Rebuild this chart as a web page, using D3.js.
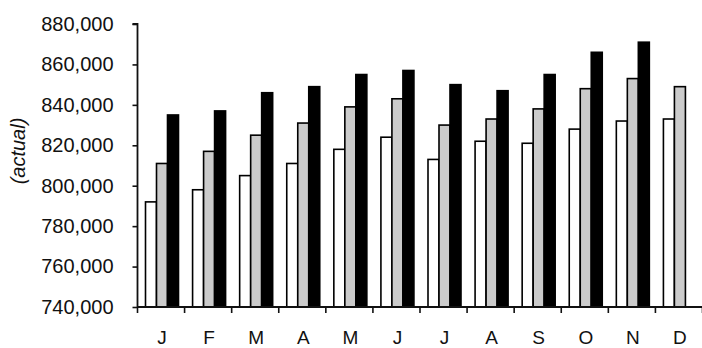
<!DOCTYPE html>
<html>
<head>
<meta charset="utf-8">
<script src="https://cdn.jsdelivr.net/npm/d3@7/dist/d3.min.js"></script>
<style>
html,body{margin:0;padding:0;background:#fff;}
svg{display:block;}
text{font-family:"Liberation Sans",Arial,sans-serif;fill:#111;}
</style>
</head>
<body>
<svg id="chart" width="702" height="348"></svg>
<script>
const months = ["J","F","M","A","M","J","J","A","S","O","N","D"];
const seriesNames = ["white","gray","black"];
const whiteValues = [792000,798000,805000,811000,818000,824000,813000,822000,821000,828000,832000,833000];
const grayValues  = [811000,817000,825000,831000,839000,843000,830000,833000,838000,848000,853000,849000];
const blackValues = [835000,837000,846000,849000,855000,857000,850000,847000,855000,866000,871000,null];
const yTicks = [740000,760000,780000,800000,820000,840000,860000,880000];
const seriesFill = ["#ffffff","#cbcbcb","#000000"];

const svg = d3.select("#chart");
const x0 = 137.5, x1 = 702.5, yTop = 24, yBot = 307;

const x = d3.scaleBand().domain(d3.range(months.length)).range([x0, x1]).padding(0);
const sub = d3.scaleBand().domain(d3.range(seriesNames.length)).range([8, 41]).padding(0);
const y = d3.scaleLinear().domain([740000, 880000]).range([yBot, yTop]);

const allSeries = [whiteValues, grayValues, blackValues];

// bars
allSeries.forEach((vals, si) => {
  svg.append("g").selectAll("rect")
    .data(vals.map((v, i) => ({v, i})).filter(d => d.v !== null))
    .join("rect")
    .attr("x", d => x(d.i) + sub(si))
    .attr("y", d => y(d.v))
    .attr("width", sub.bandwidth())
    .attr("height", d => yBot - y(d.v))
    .attr("fill", seriesFill[si])
    .attr("stroke", "#000")
    .attr("stroke-width", 1.6);
});

// y axis
const yAxis = d3.axisLeft(y).tickValues(yTicks).tickSize(5).tickPadding(19)
  .tickFormat(d3.format(","));
const gy = svg.append("g").attr("transform", `translate(${x0},0)`).call(yAxis);
gy.select(".domain").attr("stroke", "#111").attr("stroke-width", 1.8).attr("d", `M-5,${yTop}H0V${yBot}`);
gy.selectAll(".tick line").attr("stroke", "#111").attr("stroke-width", 1.6);
gy.selectAll(".tick text").attr("font-size", 20).attr("font-family", "Liberation Sans, Arial, sans-serif").attr("fill", "#111");

// x axis
const boundaries = d3.range(months.length + 1).map(i => x0 + i * x.step());
svg.append("line").attr("x1", x0).attr("x2", x1).attr("y1", yBot).attr("y2", yBot)
  .attr("stroke", "#111").attr("stroke-width", 1.8);
svg.append("g").selectAll("line").data(boundaries).join("line")
  .attr("x1", d => d).attr("x2", d => d).attr("y1", yBot).attr("y2", yBot + 6)
  .attr("stroke", "#111").attr("stroke-width", 1.6);
svg.append("g").selectAll("text").data(months).join("text")
  .attr("x", (d, i) => x(i) + x.bandwidth() / 2 + 1)
  .attr("y", yBot + 37)
  .attr("text-anchor", "middle")
  .attr("font-size", 19)
  .text(d => d);

// y label
svg.append("text")
  .attr("transform", "translate(25,151) rotate(-90)")
  .attr("text-anchor", "middle")
  .attr("font-size", 20)
  .attr("font-style", "italic")
  .text("(actual)");
</script>
</body>
</html>
